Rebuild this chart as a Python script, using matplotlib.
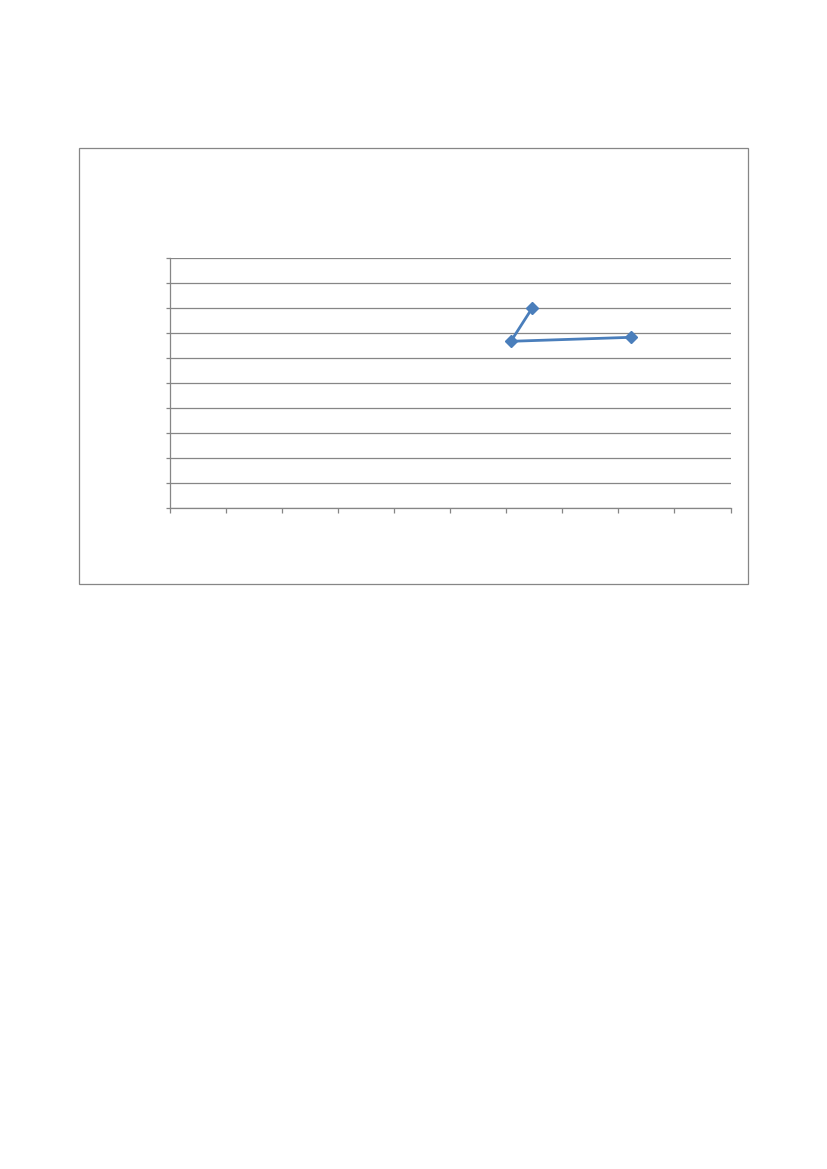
import matplotlib
matplotlib.use('Agg')
import matplotlib.pyplot as plt
from matplotlib.patches import Rectangle

# series values (no axis labels shown in the reference, so units are guessed 0..10)
x_vals = [6.46, 6.08, 8.23]
y_vals = [8.01, 6.68, 6.84]
x_ticks = list(range(0, 11))
y_ticks = list(range(0, 11))

W, H = 827, 1169
GRAY = '#868686'
BLUE = '#4a7ebb'

fig = plt.figure(figsize=(W / 100, H / 100), dpi=100)
fig.patch.set_facecolor('white')

# outer chart frame
frame_l, frame_t, frame_r, frame_b = 78.5, 147.5, 747.7, 584.3
fig.patches.append(Rectangle((frame_l / W, 1 - frame_b / H), (frame_r - frame_l) / W,
                             (frame_b - frame_t) / H, transform=fig.transFigure,
                             fill=False, edgecolor=GRAY, linewidth=0.9))

# plot area
ax_l, ax_t, ax_r, ax_b = 170.3, 258.3, 730.5, 508.3
ax = fig.add_axes([ax_l / W, 1 - ax_b / H, (ax_r - ax_l) / W, (ax_b - ax_t) / H])
ax.set_xlim(0, 10)
ax.set_ylim(0, 10)
ax.set_xticks(x_ticks)
ax.set_yticks(y_ticks)
ax.set_xticklabels([])
ax.set_yticklabels([])
ax.tick_params(axis='x', direction='out', length=3.5, width=0.9, color=GRAY)
ax.tick_params(axis='y', direction='out', length=3, width=0.9, color=GRAY)
ax.yaxis.grid(True, color=GRAY, linewidth=0.9)
ax.set_axisbelow(True)
for side in ['top', 'right']:
    ax.spines[side].set_visible(False)
for side in ['left', 'bottom']:
    ax.spines[side].set_color(GRAY)
    ax.spines[side].set_linewidth(0.9)

ax.plot(x_vals, y_vals, color=BLUE, linewidth=2.0, marker='D', markersize=6,
        markerfacecolor=BLUE, markeredgecolor=BLUE, clip_on=False, zorder=3)

fig.savefig('out.png', dpi=100)
